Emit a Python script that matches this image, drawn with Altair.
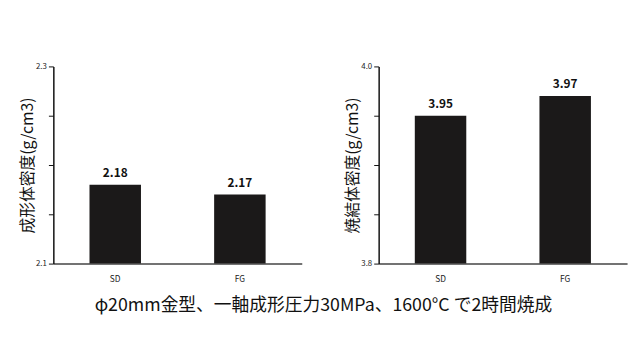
import altair as alt
import pandas as pd

categories = ["SD", "FG"]
green_density = [2.18, 2.17]
sintered_density = [3.95, 3.97]

FONT = "Noto Sans CJK JP"

def panel(values, ymin, ymax, ticks, ytitle):
    df = pd.DataFrame({"cat": categories, "val": values, "lab": [f"{v:.2f}" for v in values]})
    base = alt.Chart(df).encode(
        x=alt.X("cat:N", sort=categories, title=None,
                scale=alt.Scale(paddingInner=0.587, paddingOuter=0.29),
                axis=alt.Axis(labelAngle=0, ticks=False, labelFontSize=8.5, labelColor="#222",
                              labelPadding=11, domainColor="#444", domainWidth=1.5,
                              labelFont=FONT)),
        y=alt.Y("val:Q", title=ytitle,
                scale=alt.Scale(domain=[ymin, ymax], zero=False, nice=False),
                axis=alt.Axis(values=ticks, grid=False, format=".1f",
                              labelExpr=f"(datum.value < {ymin + 0.001} || datum.value > {ymax - 0.001}) ? datum.label : ''",
                              labelFontSize=8, labelColor="#222", labelFont=FONT,
                              tickSize=5, tickColor="#111", tickWidth=1,
                              domainColor="#111", domainWidth=1.5,
                              titleFont=FONT, titleFontSize=16, titleFontWeight="normal",
                              titleColor="#111", titlePadding=0)),
    )
    bars = base.mark_bar(color="#1b1919", clip=True)
    text = base.mark_text(dy=-12, fontSize=12, fontWeight="bold", font=FONT, color="#111").encode(text="lab:N")
    return (bars + text).properties(width=252, height=200)

left = panel(green_density, 2.1, 2.3, [2.1, 2.15, 2.2, 2.25, 2.3], "成形体密度(g/cm3)")
right = panel(sintered_density, 3.8, 4.0, [3.8, 3.85, 3.9, 3.95, 4.0], "焼結体密度(g/cm3)")

chart = alt.hconcat(left, right, spacing=43).properties(
    title=alt.TitleParams("φ20mm金型、一軸成形圧力30MPa、1600°C で2時間焼成",
                          orient="bottom", anchor="middle", font=FONT, fontSize=18,
                          fontWeight="normal", color="#111", offset=15),
    padding={"top": 53, "left": 11, "right": 5, "bottom": 5},
).configure_view(stroke=None)

chart.save("out.html", embed_options={"renderer": "svg", "actions": False})
